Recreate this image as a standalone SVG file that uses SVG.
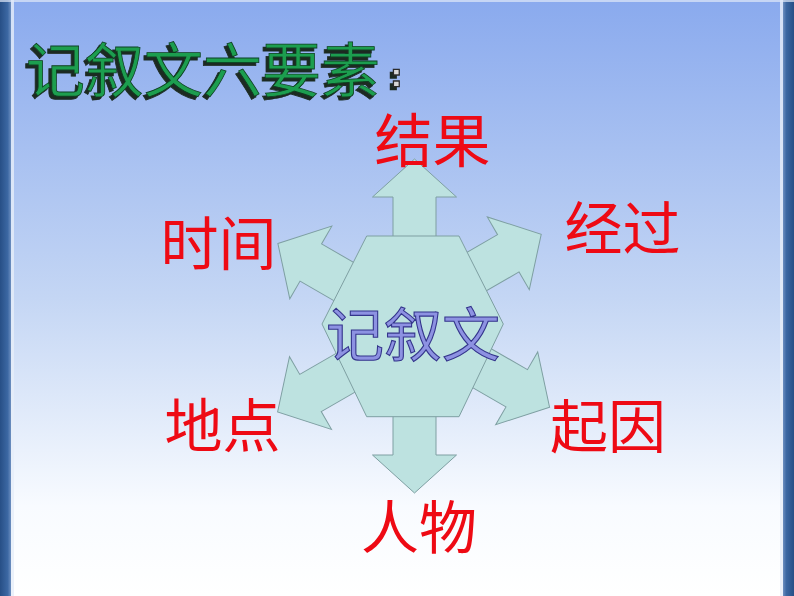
<svg xmlns="http://www.w3.org/2000/svg" width="794" height="596" viewBox="0 0 794 596">
  <defs>
    <linearGradient id="bg" x1="0" y1="0" x2="0" y2="1">
      <stop offset="0" stop-color="#8aaaee"/>
      <stop offset="0.5" stop-color="#c4d6f4"/>
      <stop offset="0.85" stop-color="#f8fbff"/>
      <stop offset="1" stop-color="#ffffff"/>
    </linearGradient>
    <linearGradient id="barL" x1="0" y1="0" x2="1" y2="0">
      <stop offset="0" stop-color="#274f86"/>
      <stop offset="0.7" stop-color="#3c68a3"/>
      <stop offset="1" stop-color="#6d8fc0"/>
    </linearGradient>
    <linearGradient id="barR" x1="1" y1="0" x2="0" y2="0">
      <stop offset="0" stop-color="#274f86"/>
      <stop offset="0.7" stop-color="#3c68a3"/>
      <stop offset="1" stop-color="#6d8fc0"/>
    </linearGradient>
    <filter id="extrude" x="-10%" y="-20%" width="120%" height="140%">
      <feDropShadow dx="-3" dy="3" stdDeviation="0" flood-color="#1c2a20" flood-opacity="1"/>
    </filter>
    <polygon id="arrow" points="0,-38 42,0 21.5,0 21.5,120 -21.5,120 -21.5,0 -42,0"/>
  </defs>
  <style>
    .shape { fill: #bde2e0; stroke: #7e9fa2; stroke-width: 1; }
    .lbl { font-family: "Noto Sans CJK SC", "Liberation Serif", serif; font-size: 58px; fill: #ee0a14; text-anchor: middle; dominant-baseline: central; }
    .title { font-family: "Noto Sans CJK SC", "Liberation Sans", sans-serif; font-size: 59px; dominant-baseline: central; fill: #1f9e4f; stroke: #0d3d1f; stroke-width: 0.8; }
    .colon { font-family: "Liberation Sans", sans-serif; font-size: 32px; font-weight: bold; fill: #d8d8d8; stroke: #2a2a2a; stroke-width: 2.6; paint-order: stroke; }
    .center { font-family: "Noto Sans CJK SC", "Liberation Sans", sans-serif; font-size: 58px; fill: #8d92e2; stroke: #34358c; stroke-width: 1.1; text-anchor: middle; dominant-baseline: central; }
  </style>

  <rect x="0" y="0" width="794" height="596" fill="url(#bg)"/>
  <rect x="0" y="0" width="11" height="596" fill="url(#barL)"/>
  <rect x="11" y="0" width="3" height="596" fill="#e6eef9" opacity="0.8"/>
  <rect x="783" y="0" width="11" height="596" fill="url(#barR)"/>
  <rect x="780" y="0" width="3" height="596" fill="#e6eef9" opacity="0.8"/>
  <rect x="0" y="0" width="794" height="2" fill="#dfe8f8" opacity="0.7"/>

  <g id="title" filter="url(#extrude)">
    <text class="title" x="26" y="66.5">记叙文六要素</text>
    <text class="colon" x="391" y="86">:</text>
  </g>

  <g id="connectors">
    <use href="#arrow" class="shape" transform="translate(414.5,197)"/>
    <use href="#arrow" class="shape" transform="translate(508.3,253.3) rotate(60)"/>
    <use href="#arrow" class="shape" transform="translate(516.7,388.3) rotate(120)"/>
    <use href="#arrow" class="shape" transform="translate(414.5,455) rotate(180)"/>
    <use href="#arrow" class="shape" transform="translate(310.5,393) rotate(240)"/>
    <use href="#arrow" class="shape" transform="translate(310.8,262.5) rotate(300)"/>
  </g>

  <g id="hub">
    <polygon class="shape" points="366.7,236 459,236 503.3,324 459,416.7 366.7,416.7 322,324"/>
    <text class="center" x="413" y="331">记叙文</text>
  </g>

  <g id="n-result"><text class="lbl" x="432.5" y="136.5">结果</text></g>
  <g id="n-process"><text class="lbl" x="622.5" y="225">经过</text></g>
  <g id="n-cause"><text class="lbl" x="608" y="422.5">起因</text></g>
  <g id="n-people"><text class="lbl" x="419" y="524">人物</text></g>
  <g id="n-place"><text class="lbl" x="222.5" y="421.5">地点</text></g>
  <g id="n-time"><text class="lbl" x="218.5" y="240">时间</text></g>
</svg>
